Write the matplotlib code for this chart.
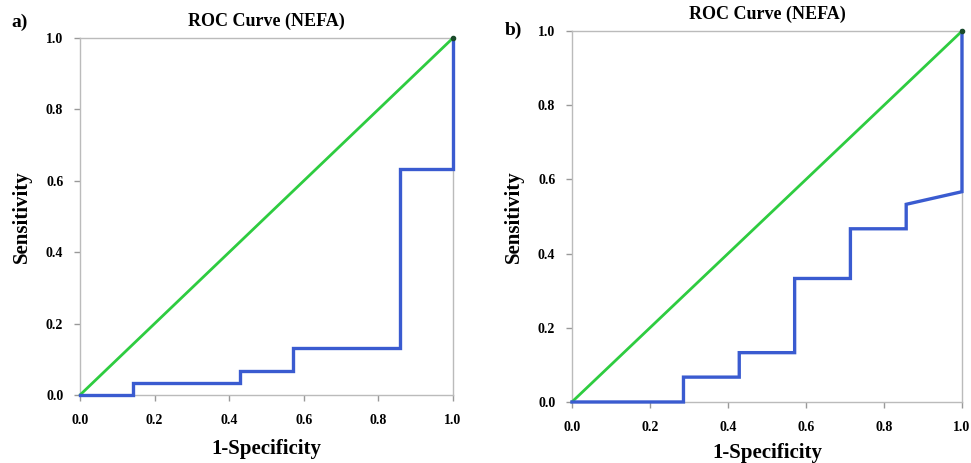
import numpy as np
import matplotlib.pyplot as plt

# panel a ROC points (1-specificity, sensitivity)
fpr_a = [0.0, 0.143, 0.143, 0.429, 0.429, 0.571, 0.571, 0.857, 0.857, 1.0, 1.0]
tpr_a = [0.0, 0.0, 0.033, 0.033, 0.067, 0.067, 0.133, 0.133, 0.633, 0.633, 1.0]

# panel b ROC points
fpr_b = [0.0, 0.286, 0.286, 0.429, 0.429, 0.571, 0.571, 0.714, 0.714, 0.857, 0.857, 1.0, 1.0]
tpr_b = [0.0, 0.0, 0.067, 0.067, 0.133, 0.133, 0.333, 0.333, 0.467, 0.467, 0.533, 0.567, 1.0]

ticks = [0.0, 0.2, 0.4, 0.6, 0.8, 1.0]
tick_labels = ['0.0', '0.2', '0.4', '0.6', '0.8', '1.0']

plt.rcParams['font.family'] = ['Liberation Serif', 'DejaVu Serif']
plt.rcParams['font.weight'] = 'bold'

fig = plt.figure(figsize=(9.71, 4.63), dpi=100)
ax1 = fig.add_axes([0.0824, 0.1469, 0.3841, 0.771])
ax2 = fig.add_axes([0.589, 0.1318, 0.4017, 0.801])

for ax, fx, ty in [(ax1, fpr_a, tpr_a), (ax2, fpr_b, tpr_b)]:
    ax.plot([0, 1], [0, 1], color='#2ecc40', lw=2, solid_capstyle='round',
            clip_on=False, zorder=3)
    ax.plot(fx, ty, color='#3a5bd0', lw=2.4, solid_joinstyle='miter',
            clip_on=False, zorder=4)
    ax.plot([1], [1], 'o', color='#1a4a2a', ms=3, clip_on=False, zorder=5)
    ax.set_xlim(0, 1)
    ax.set_ylim(0, 1)
    ax.set_xticks(ticks)
    ax.set_xticklabels(tick_labels)
    ax.set_yticks(ticks)
    ax.set_yticklabels(tick_labels)
    for sp in ax.spines.values():
        sp.set_color('#bbbbbb')
        sp.set_linewidth(1.0)
    ax.tick_params(colors='#999999', labelcolor='black', labelsize=10,
                   length=4, width=1)
    ax.tick_params(axis='x', pad=10)
    ax.tick_params(axis='y', pad=8)
    ax.set_xlabel('1-Specificity', fontsize=15, fontweight='bold')
    ax.set_ylabel('Sensitivity', fontsize=15, fontweight='bold')
    ax.set_title('ROC Curve (NEFA)', fontsize=13, fontweight='bold', pad=9)
    for lab in ax.get_xticklabels() + ax.get_yticklabels():
        lab.set_fontweight('bold')

ax1.xaxis.labelpad = 8
ax2.xaxis.labelpad = 6
ax1.yaxis.labelpad = 10
ax2.yaxis.labelpad = 10

fig.text(0.012, 0.952, 'a)', fontsize=14, fontweight='bold', va='center')
fig.text(0.52, 0.935, 'b)', fontsize=14, fontweight='bold', va='center')

fig.savefig('out.png', dpi=100)
